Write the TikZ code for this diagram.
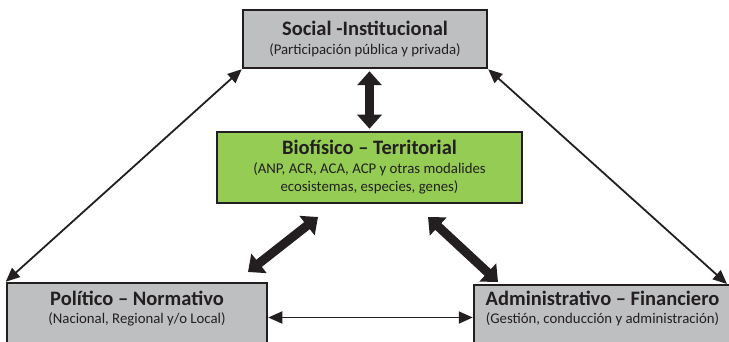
\documentclass[tikz,border=0pt]{standalone}
\usepackage{fontspec}
\setmainfont{Carlito}
\usepackage{tikz}
\usetikzlibrary{shapes}
\usetikzlibrary{arrows.meta}
\usetikzlibrary{positioning}
\definecolor{boxgray}{RGB}{190,191,193}
\definecolor{boxgreen}{RGB}{148,204,84}
\definecolor{inkdark}{RGB}{35,31,32}
\newcommand{\boxtitle}[1]{{\fontsize{20.5}{19}\selectfont\bfseries #1}}

\begin{document}
\begin{tikzpicture}[x=1pt,y=1pt]
\tikzstyle{area}=[draw=inkdark,line width=2.5pt,fill=boxgray,inner sep=0pt,align=center,text=inkdark,font=\fontsize{14.8}{18.5}\selectfont]
\tikzstyle{fat}=[draw=inkdark,line width=9pt,{Triangle[width=24pt,length=14pt]}-{Triangle[width=24pt,length=14pt]}]
\tikzstyle{thin}=[draw=inkdark,line width=1.8pt,{Triangle[length=14pt,width=12pt]}-{Triangle[length=14pt,width=12pt]}]
\useasboundingbox (0,0) rectangle (729,342);
\node[area,minimum width=244pt,minimum height=58pt] (soc) at (365,303)
  {\boxtitle{Social -Institucional}\\(Participación pública y privada)};
\node[area,fill=boxgreen,minimum width=305pt,minimum height=71pt] (bio) at (369.5,174.5)
  {\boxtitle{Biofísico -- Territorial}\\(ANP, ACR, ACA, ACP y otras modalides\\ecosistemas, especies, genes)};
\node[area,minimum width=260pt,minimum height=69pt,text depth=20pt] (pol) at (137,24.5)
  {\boxtitle{Político -- Normativo}\\(Nacional, Regional y/o Local)};
\node[area,minimum width=257pt,minimum height=65pt,text depth=20pt] (adm) at (602.5,24.5)
  {\boxtitle{Administrativo -- Financiero}\\(Gestión, conducción y administración)};
\coordinate (admtip) at (727,58);
\coordinate (polfat) at (248,70);
\coordinate (biofatl) at (318,125);
\coordinate (biofatr) at (428,125);
\coordinate (admfat) at (498,60);
% fat arrows round the green box
\draw[fat,shorten <=2pt,shorten >=2pt] (soc.south -| bio.north) -- (bio.north);
\draw[fat] (polfat) -- (biofatl);
\draw[fat] (biofatr) -- (admfat);
% thin arrows between the outer boxes
\draw[thin] (soc.south west) -- (pol.north west);
\draw[thin] (soc.south east) -- (admtip);
\draw[thin] (pol.east) -- (adm.west);
\end{tikzpicture}
\end{document}
